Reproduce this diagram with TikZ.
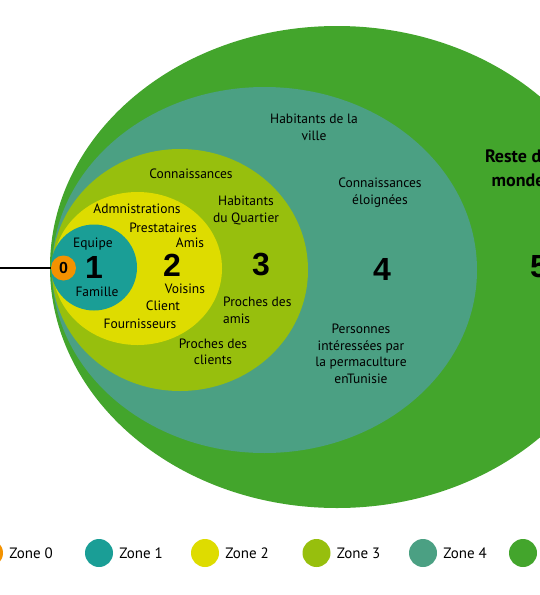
\documentclass[tikz,border=0pt]{standalone}
\usepackage{fontspec}
\setmainfont{PT Sans}
\newfontfamily\numfont{Liberation Sans}
\usetikzlibrary{positioning}

\definecolor{zcol0}{HTML}{F39200}
\definecolor{zcol1}{HTML}{1A9E96}
\definecolor{zcol2}{HTML}{DEDC00}
\definecolor{zcol3}{HTML}{97BF0D}
\definecolor{zcol4}{HTML}{4BA083}
\definecolor{zcol5}{HTML}{43A52C}

\tikzset{
  zonetxt/.style={font=\fontsize{13.5}{16.5}\selectfont, align=center, inner sep=0pt},
  zonenum/.style={font=\numfont\bfseries\fontsize{32}{32}\selectfont, inner sep=0pt},
  legdot/.style={circle, minimum size=28pt, inner sep=0pt},
  legtxt/.style={font=\fontsize{15}{15}\selectfont, inner sep=0pt, anchor=west},
}

\begin{document}
\begin{tikzpicture}[x=1pt, y=-1pt]
  \useasboundingbox (0,0) rectangle (540,595);
  \clip (0,0) rectangle (540,595);

  % === ZONES, outside in ===
  \fill[zcol5] (337,267) ellipse (287 and 241);
  \fill[zcol4] (264.5,270) ellipse (212.5 and 183);
  \fill[zcol3] (180,270) ellipse (128 and 121);
  \fill[zcol2] (137.5,268.5) ellipse (84.5 and 76.5);
  \fill[zcol1] (94,267.5) circle (43);
  \node[circle, fill=zcol0, minimum size=25pt, inner sep=0pt] (z0) at (63.5,268) {};

  % line coming in from the left
  \coordinate (lstart) at (0,268);
  \draw[line width=1.8pt] (lstart) -- (z0.west);

  % === NUMBERS ===
  \node[zonenum, font=\numfont\bfseries\fontsize{16}{16}\selectfont] (n0) at (z0) {0};
  \node[zonenum] (n1) at (94,267) {1};
  \node[zonenum] (n2) at (172,265) {2};
  \node[zonenum] (n3) at (261,265) {3};
  \node[zonenum] (n4) at (382,269) {4};
  \node[zonenum] (n5) at (539,267) {5};

  % === ZONE 1 ===
  \node[zonetxt] (equipe) at (93,244) {Equipe};
  \node[zonetxt] (famille) at (97,292) {Famille};

  % === ZONE 2 ===
  \node[zonetxt] (admin) at (137,209) {Admnistrations};
  \node[zonetxt] (prest) at (163,228) {Prestataires};
  \node[zonetxt] (amis) at (190,243) {Amis};
  \node[zonetxt] (voisins) at (185,289) {Voisins};
  \node[zonetxt] (client) at (163,306) {Client};
  \node[zonetxt] (fourn) at (140,324) {Fournisseurs};

  % === ZONE 3 ===
  \node[zonetxt] (conn) at (191,174) {Connaissances};
  \node[zonetxt] (quartier) at (246,210.5) {Habitants\\du Quartier};
  \node[zonetxt, align=left, anchor=west] (pamis) at (223,310.5) {Proches des\\amis};
  \node[zonetxt] (pclients) at (213,352) {Proches des\\clients};

  % === ZONE 4 ===
  \node[zonetxt] (ville) at (314,127.5) {Habitants de la\\ville};
  \node[zonetxt] (connelo) at (380,192.5) {Connaissances\\éloignées};
  \node[zonetxt] (perma) at (361,354) {Personnes\\intéressées par\\la permaculture\\enTunisie};

  % === ZONE 5 ===
  \node[zonetxt, font=\bfseries\fontsize{18}{24}\selectfont] (monde) at (518,168) {Reste du\\monde};

  % === LEGEND ===
  \foreach \i/\xx in {0/-11, 1/99, 2/205, 3/316.5, 4/423} {
    \node[legdot, fill=zcol\i] (legdot\i) at (\xx,553) {};
    \node[legtxt, right=6pt of legdot\i] (legtxt\i) {Zone \i};
  }
  \node[legdot, fill=zcol5] (legdot5) at (523,553) {};
\end{tikzpicture}
\end{document}
